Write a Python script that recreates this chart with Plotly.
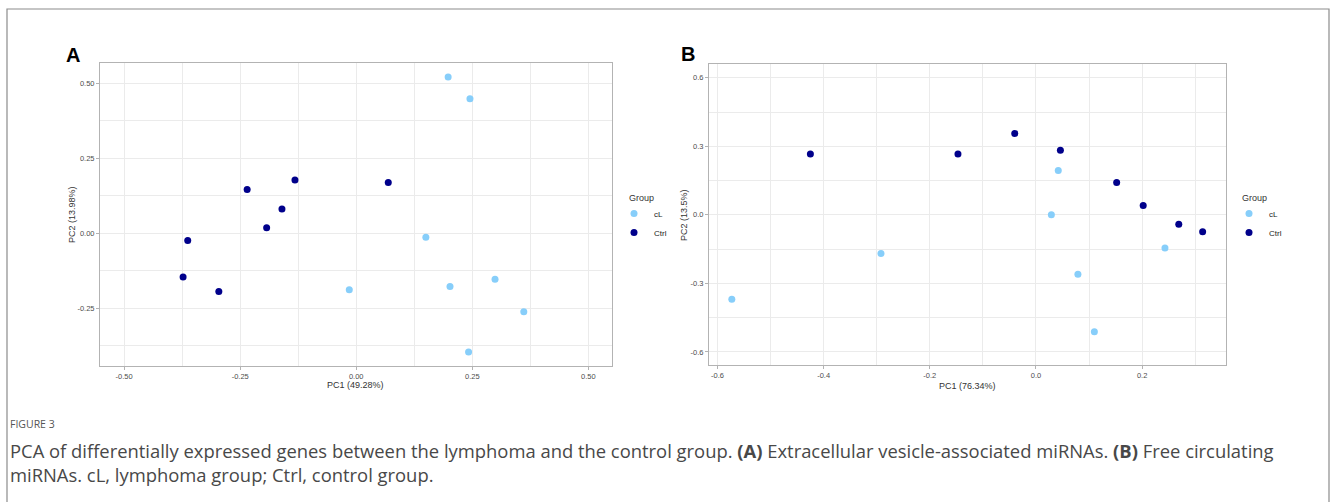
import plotly.graph_objects as go

# ---------------- data ----------------
groups = ["cL", "Ctrl"]
group_colors = {"cL": "#87CEFA", "Ctrl": "#00008B"}

# Panel A: Extracellular vesicle-associated miRNAs
a_cl_pc1 = [0.198, 0.245, 0.150, -0.015, 0.202, 0.299, 0.361, 0.242]
a_cl_pc2 = [0.520, 0.448, -0.013, -0.188, -0.177, -0.153, -0.261, -0.395]
a_ctrl_pc1 = [-0.235, -0.132, -0.160, -0.193, 0.069, -0.363, -0.373, -0.296]
a_ctrl_pc2 = [0.146, 0.177, 0.081, 0.018, 0.169, -0.024, -0.146, -0.194]

# Panel B: Free circulating miRNAs
b_cl_pc1 = [-0.573, -0.292, 0.042, 0.029, 0.079, 0.110, 0.243]
b_cl_pc2 = [-0.369, -0.169, 0.194, 0.000, -0.260, -0.512, -0.145]
b_ctrl_pc1 = [-0.425, -0.147, -0.040, 0.046, 0.152, 0.202, 0.269, 0.314]
b_ctrl_pc2 = [0.266, 0.266, 0.356, 0.283, 0.142, 0.041, -0.041, -0.074]

a_xtick_vals = [-0.50, -0.25, 0.00, 0.25, 0.50]
a_xtick_text = ["-0.50", "-0.25", "0.00", "0.25", "0.50"]
a_ytick_vals = [-0.25, 0.00, 0.25, 0.50]
a_ytick_text = ["-0.25", "0.00", "0.25", "0.50"]
b_xtick_vals = [-0.6, -0.4, -0.2, 0.0, 0.2]
b_xtick_text = ["-0.6", "-0.4", "-0.2", "0.0", "0.2"]
b_ytick_vals = [-0.6, -0.3, 0.0, 0.3, 0.6]
b_ytick_text = ["-0.6", "-0.3", "0.0", "0.3", "0.6"]

a_xtitle = "PC1 (49.28%)"
a_ytitle = "PC2 (13.98%)"
b_xtitle = "PC1 (76.34%)"
b_ytitle = "PC2 (13.5%)"

caption_label = "FIGURE 3"
caption_text = ("PCA of differentially expressed genes between the lymphoma and the control group. "
                "<b>(A)</b> Extracellular vesicle-associated miRNAs. <b>(B)</b> Free circulating<br>"
                "miRNAs. cL, lymphoma group; Ctrl, control group.")

# ---------------- figure ----------------
W, H = 1331, 502
def px(x):
    return x / W
def py(y):
    return 1 - y / H

fig = go.Figure()

marker_size = 7
fig.add_trace(go.Scatter(x=a_cl_pc1, y=a_cl_pc2, mode="markers", name="cL",
                         marker=dict(color=group_colors["cL"], size=marker_size),
                         xaxis="x", yaxis="y", legend="legend"))
fig.add_trace(go.Scatter(x=a_ctrl_pc1, y=a_ctrl_pc2, mode="markers", name="Ctrl",
                         marker=dict(color=group_colors["Ctrl"], size=marker_size),
                         xaxis="x", yaxis="y", legend="legend"))
fig.add_trace(go.Scatter(x=b_cl_pc1, y=b_cl_pc2, mode="markers", name="cL",
                         marker=dict(color=group_colors["cL"], size=marker_size),
                         xaxis="x2", yaxis="y2", legend="legend2"))
fig.add_trace(go.Scatter(x=b_ctrl_pc1, y=b_ctrl_pc2, mode="markers", name="Ctrl",
                         marker=dict(color=group_colors["Ctrl"], size=marker_size),
                         xaxis="x2", yaxis="y2", legend="legend2"))

tick_font = dict(family="Liberation Sans, Arial, sans-serif", size=7.5, color="#4D4D4D")
grid_c = "#EBEBEB"
border_c = "#B3B3B3"

def axis(domain, rng, tv, tt, minor_dtick, anchor):
    return dict(domain=domain, range=rng, tickmode="array", tickvals=tv, ticktext=tt,
                showgrid=True, gridcolor=grid_c, gridwidth=1,
                minor=dict(tick0=0, dtick=minor_dtick, showgrid=True, gridcolor=grid_c,
                           gridwidth=0.8, ticks=""),
                showline=True, mirror=True, linecolor=border_c, linewidth=1,
                ticks="outside", ticklen=3, tickcolor=border_c, tickwidth=1,
                tickfont=tick_font, zeroline=False, automargin=False, anchor=anchor,
                fixedrange=True)

fig.update_layout(
    xaxis=axis([px(100), px(612)], [-0.552, 0.551], a_xtick_vals, a_xtick_text, 0.125, "y"),
    yaxis=axis([py(366), py(63)], [-0.442, 0.567], a_ytick_vals, a_ytick_text, 0.125, "x"),
    xaxis2=axis([px(709), px(1226)], [-0.616, 0.358], b_xtick_vals, b_xtick_text, 0.1, "y2"),
    yaxis2=axis([py(365), py(64)], [-0.657, 0.660], b_ytick_vals, b_ytick_text, 0.15, "x2"),
)

legend_font = dict(family="Liberation Sans, Arial, sans-serif", size=8, color="#1A1A1A")
fig.update_layout(
    width=W, height=H,
    margin=dict(l=0, r=0, t=0, b=0),
    paper_bgcolor="white", plot_bgcolor="white",
    legend=dict(x=px(614), y=py(199), xanchor="left", yanchor="top",
                font=legend_font, bgcolor="rgba(0,0,0,0)", itemwidth=30),
    legend2=dict(x=px(1229), y=py(199), xanchor="left", yanchor="top",
                 font=legend_font, bgcolor="rgba(0,0,0,0)", itemwidth=30),
)

ann = []
title_font = dict(family="Liberation Sans, Arial, sans-serif", size=9, color="#333333")
ann.append(dict(text=a_xtitle, x=px(356), y=py(385), xref="paper", yref="paper",
                showarrow=False, font=title_font, xanchor="center", yanchor="middle"))
ann.append(dict(text=a_ytitle, x=px(72), y=py(215), xref="paper", yref="paper",
                showarrow=False, font=title_font, textangle=-90, xanchor="center", yanchor="middle"))
ann.append(dict(text=b_xtitle, x=px(967), y=py(386), xref="paper", yref="paper",
                showarrow=False, font=title_font, xanchor="center", yanchor="middle"))
ann.append(dict(text=b_ytitle, x=px(684), y=py(215), xref="paper", yref="paper",
                showarrow=False, font=title_font, textangle=-90, xanchor="center", yanchor="middle"))
# legend titles
ann.append(dict(text="Group", x=px(627), y=py(198), xref="paper", yref="paper",
                showarrow=False, font=title_font, xanchor="left", yanchor="middle"))
ann.append(dict(text="Group", x=px(1240), y=py(198), xref="paper", yref="paper",
                showarrow=False, font=title_font, xanchor="left", yanchor="middle"))
# panel letters
panel_font = dict(family="Liberation Sans, Arial, sans-serif", size=20, color="black")
ann.append(dict(text="<b>A</b>", x=px(64), y=py(55), xref="paper", yref="paper",
                showarrow=False, font=panel_font, xanchor="left", yanchor="middle"))
ann.append(dict(text="<b>B</b>", x=px(679), y=py(54), xref="paper", yref="paper",
                showarrow=False, font=panel_font, xanchor="left", yanchor="middle"))
# caption
ann.append(dict(text=caption_label, x=px(8), y=py(424), xref="paper", yref="paper",
                showarrow=False, xanchor="left", yanchor="middle",
                font=dict(family="Open Sans, Noto Sans, sans-serif", size=10.5, color="#555555")))
ann.append(dict(text=caption_text, x=px(8), y=py(436), xref="paper", yref="paper",
                showarrow=False, xanchor="left", yanchor="top", align="left",
                font=dict(family="Open Sans, Noto Sans, sans-serif", size=18.4, color="#484848")))
fig.update_layout(annotations=ann)

fig.add_shape(type="rect", xref="paper", yref="paper",
              x0=px(7), x1=px(1329), y0=-0.05, y1=py(9),
              line=dict(color="#8C8C8C", width=1.2), fillcolor="rgba(0,0,0,0)", layer="below")

fig.write_html("out.html", config={"displayModeBar": False},
               post_script="document.body.style.margin='0';")
